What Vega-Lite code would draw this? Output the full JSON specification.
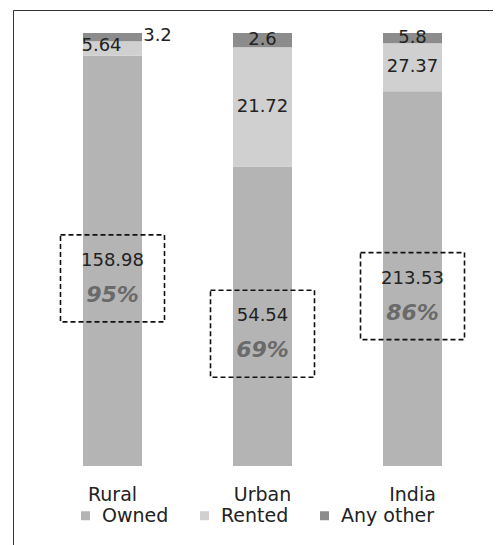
{
  "$schema": "https://vega.github.io/schema/vega-lite/v6.json",
  "width": 480,
  "height": 560,
  "autosize": {"type": "none"},
  "padding": {"left": 13, "top": 10, "right": 0, "bottom": 0},
  "background": "white",
  "config": {"view": {"stroke": "#333", "strokeWidth": 1}, "font": "DejaVu Sans"},
  "data": {"values": [
    {"region": "Rural", "type": "Owned", "value": 158.98, "pct": "95%"},
    {"region": "Rural", "type": "Rented", "value": 5.64},
    {"region": "Rural", "type": "Any other", "value": 3.2},
    {"region": "Urban", "type": "Owned", "value": 54.54, "pct": "69%"},
    {"region": "Urban", "type": "Rented", "value": 21.72},
    {"region": "Urban", "type": "Any other", "value": 2.6},
    {"region": "India", "type": "Owned", "value": 213.53, "pct": "86%"},
    {"region": "India", "type": "Rented", "value": 27.37},
    {"region": "India", "type": "Any other", "value": 5.8}
  ]},
  "transform": [
    {"stack": "value", "groupby": ["region"], "sort": [{"field": "value", "order": "descending"}], "offset": "normalize", "as": ["y0", "y1"]},
    {"calculate": "(datum.y0 + datum.y1) / 2", "as": "mid"}
  ],
  "encoding": {
    "x": {"field": "region", "type": "nominal", "sort": ["Rural", "Urban", "India"],
          "scale": {"paddingInner": 0.6067, "paddingOuter": 0.4033, "align": 0.5785}, "axis": null}
  },
  "layer": [
    {
      "mark": {"type": "bar"},
      "encoding": {
        "y": {"field": "y0", "type": "quantitative", "scale": {"domain": [-0.24018, 1.05312], "nice": false, "zero": false}, "axis": null},
        "y2": {"field": "y1"},
        "color": {"field": "type", "type": "nominal",
          "scale": {"domain": ["Owned", "Rented", "Any other"], "range": ["#b4b4b4", "#d0d0d0", "#8c8c8c"]},
          "legend": {"title": null, "orient": "none", "legendX": 63, "legendY": 496, "direction": "horizontal", "columns": 3,
                     "symbolType": "square", "symbolSize": 81, "symbolStrokeWidth": 0, "labelFontSize": 19, "labelColor": "#222",
                     "labelOffset": 7, "columnPadding": 26, "padding": 0, "labelFont": "DejaVu Sans"}}
      }
    },
    {
      "transform": [{"filter": "!(datum.region == 'Rural' && datum.type != 'Owned')"}],
      "mark": {"type": "text", "fontSize": 18, "fill": "#222"},
      "encoding": {"y": {"field": "mid", "type": "quantitative"}, "text": {"field": "value", "type": "quantitative"}}
    },
    {
      "transform": [{"filter": "datum.region == 'Rural' && datum.type == 'Rented'"}],
      "mark": {"type": "text", "fontSize": 18, "fill": "#222", "dx": -11, "dy": -3},
      "encoding": {"y": {"field": "mid", "type": "quantitative"}, "text": {"field": "value", "type": "quantitative"}}
    },
    {
      "transform": [{"filter": "datum.region == 'Rural' && datum.type == 'Any other'"}],
      "mark": {"type": "text", "fontSize": 18, "fill": "#222", "dx": 45, "dy": -1},
      "encoding": {"y": {"field": "mid", "type": "quantitative"}, "text": {"field": "value", "type": "quantitative"}}
    },
    {
      "transform": [{"filter": "datum.type == 'Owned'"}],
      "mark": {"type": "text", "fontSize": 22, "fontWeight": "bold", "fontStyle": "italic", "fill": "#6a6a6a", "dy": 34},
      "encoding": {"y": {"field": "mid", "type": "quantitative"}, "text": {"field": "pct", "type": "nominal"}}
    },
    {
      "transform": [{"filter": "datum.type == 'Owned'"}],
      "mark": {"type": "point", "shape": "M-1,-0.5L1,-0.5L1,1.173L-1,1.173Z", "size": 10816, "filled": false,
               "stroke": "#111", "strokeWidth": 1.6, "strokeDash": [5, 3], "opacity": 1},
      "encoding": {"y": {"field": "mid", "type": "quantitative"}}
    },
    {
      "transform": [{"filter": "datum.type == 'Owned'"}],
      "mark": {"type": "text", "fontSize": 19, "fill": "#222"},
      "encoding": {"y": {"datum": -0.067, "type": "quantitative"}, "text": {"field": "region", "type": "nominal"}}
    }
  ]
}
